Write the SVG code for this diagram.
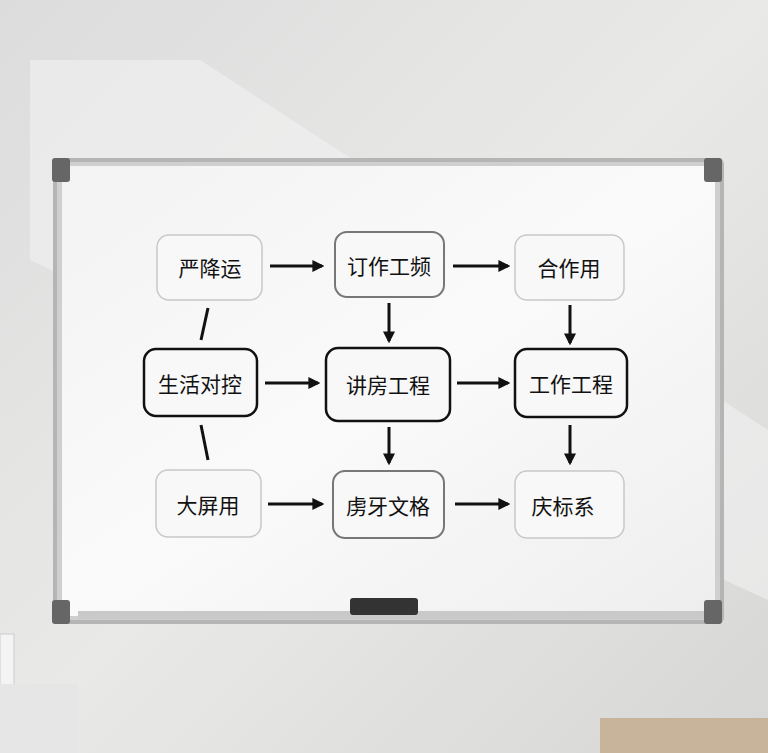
<svg xmlns="http://www.w3.org/2000/svg" width="768" height="753" viewBox="0 0 768 753">
<defs>
<linearGradient id="wall" x1="0" y1="0" x2="1" y2="1">
<stop offset="0" stop-color="#dcdcdc"/><stop offset="0.5" stop-color="#e9e9e8"/><stop offset="1" stop-color="#d6d6d5"/>
</linearGradient>
<linearGradient id="board" x1="0" y1="0" x2="1" y2="1">
<stop offset="0" stop-color="#f3f3f3"/><stop offset="0.5" stop-color="#fafafa"/><stop offset="1" stop-color="#eeeeee"/>
</linearGradient>
<marker id="ah" viewBox="0 0 10 10" refX="8" refY="5" markerWidth="4" markerHeight="4" orient="auto">
<path d="M0,0 L10,5 L0,10 z" fill="#111"/>
</marker>
<style>
.t{font-family:"Noto Sans CJK SC","Noto Sans",sans-serif;font-size:21px;fill:#111;text-anchor:middle;dominant-baseline:central}
.light{fill:#f8f8f8;stroke:#c8c8c8;stroke-width:1.5}
.mid{fill:#f8f8f8;stroke:#777;stroke-width:2}
.dark{fill:#f8f8f8;stroke:#111;stroke-width:2.5}
.c{stroke:#111;stroke-width:3;fill:none}
.a{marker-end:url(#ah)}
</style>
</defs>
<rect width="768" height="753" fill="url(#wall)"/>
<polygon points="30,60 200,60 768,430 768,600 30,260" fill="#f2f2f1" opacity="0.6"/>
<rect x="55" y="160" width="667" height="462" fill="#cfcfcf" rx="4"/>
<rect x="62" y="166" width="653" height="450" fill="url(#board)"/>
<rect x="55" y="160" width="667" height="462" fill="none" stroke="#b5b5b5" stroke-width="4" rx="4"/>
<rect x="52" y="158" width="18" height="24" fill="#666" rx="3"/>
<rect x="704" y="158" width="18" height="24" fill="#666" rx="3"/>
<rect x="52" y="600" width="18" height="24" fill="#666" rx="3"/>
<rect x="704" y="600" width="18" height="24" fill="#666" rx="3"/>
<rect x="78" y="611" width="626" height="8" fill="#c9c9c9"/>
<rect x="350" y="598" width="68" height="17" fill="#333" rx="3"/>
<rect x="0" y="634" width="14" height="52" fill="#f4f4f4" stroke="#ccc"/>
<rect x="0" y="684" width="78" height="69" fill="#e6e6e6"/>
<rect x="600" y="718" width="168" height="35" fill="#c8b49a"/>
<g id="connectors">
<line class="c" x1="208" y1="308" x2="201" y2="340"/>
<line class="c" x1="201" y1="425" x2="208" y2="460"/>
<line class="c a" x1="270" y1="266" x2="322" y2="266"/>
<line class="c a" x1="453" y1="266" x2="508" y2="266"/>
<line class="c a" x1="265" y1="383" x2="318" y2="383"/>
<line class="c a" x1="457" y1="383" x2="508" y2="383"/>
<line class="c a" x1="268" y1="504" x2="322" y2="504"/>
<line class="c a" x1="455" y1="504" x2="508" y2="504"/>
<line class="c a" x1="389" y1="303" x2="389" y2="341"/>
<line class="c a" x1="570" y1="305" x2="570" y2="343"/>
<line class="c a" x1="389" y1="427" x2="389" y2="463"/>
<line class="c a" x1="570" y1="425" x2="570" y2="463"/>
</g>
<g id="n1"><rect class="light" x="157" y="235" width="105" height="65" rx="12"/><text class="t" x="210" y="267">严降运</text></g>
<g id="n2"><rect class="mid" x="335" y="232" width="109" height="65" rx="12"/><text class="t" x="389" y="265">订作工频</text></g>
<g id="n3"><rect class="light" x="515" y="235" width="109" height="65" rx="12"/><text class="t" x="569" y="267">合作用</text></g>
<g id="n4"><rect class="dark" x="144" y="349" width="113" height="67" rx="12"/><text class="t" x="200" y="383">生活对控</text></g>
<g id="n5"><rect class="dark" x="326" y="348" width="124" height="73" rx="12"/><text class="t" x="388" y="384">讲房工程</text></g>
<g id="n6"><rect class="dark" x="515" y="349" width="112" height="68" rx="12"/><text class="t" x="571" y="383">工作工程</text></g>
<g id="n7"><rect class="light" x="156" y="470" width="105" height="67" rx="12"/><text class="t" x="208" y="504">大屏用</text></g>
<g id="n8"><rect class="mid" x="333" y="471" width="111" height="67" rx="12"/><text class="t" x="388" y="505">虏牙文格</text></g>
<g id="n9"><rect class="light" x="515" y="471" width="109" height="67" rx="12"/><text class="t" x="563" y="505">庆标系</text></g>
</svg>
